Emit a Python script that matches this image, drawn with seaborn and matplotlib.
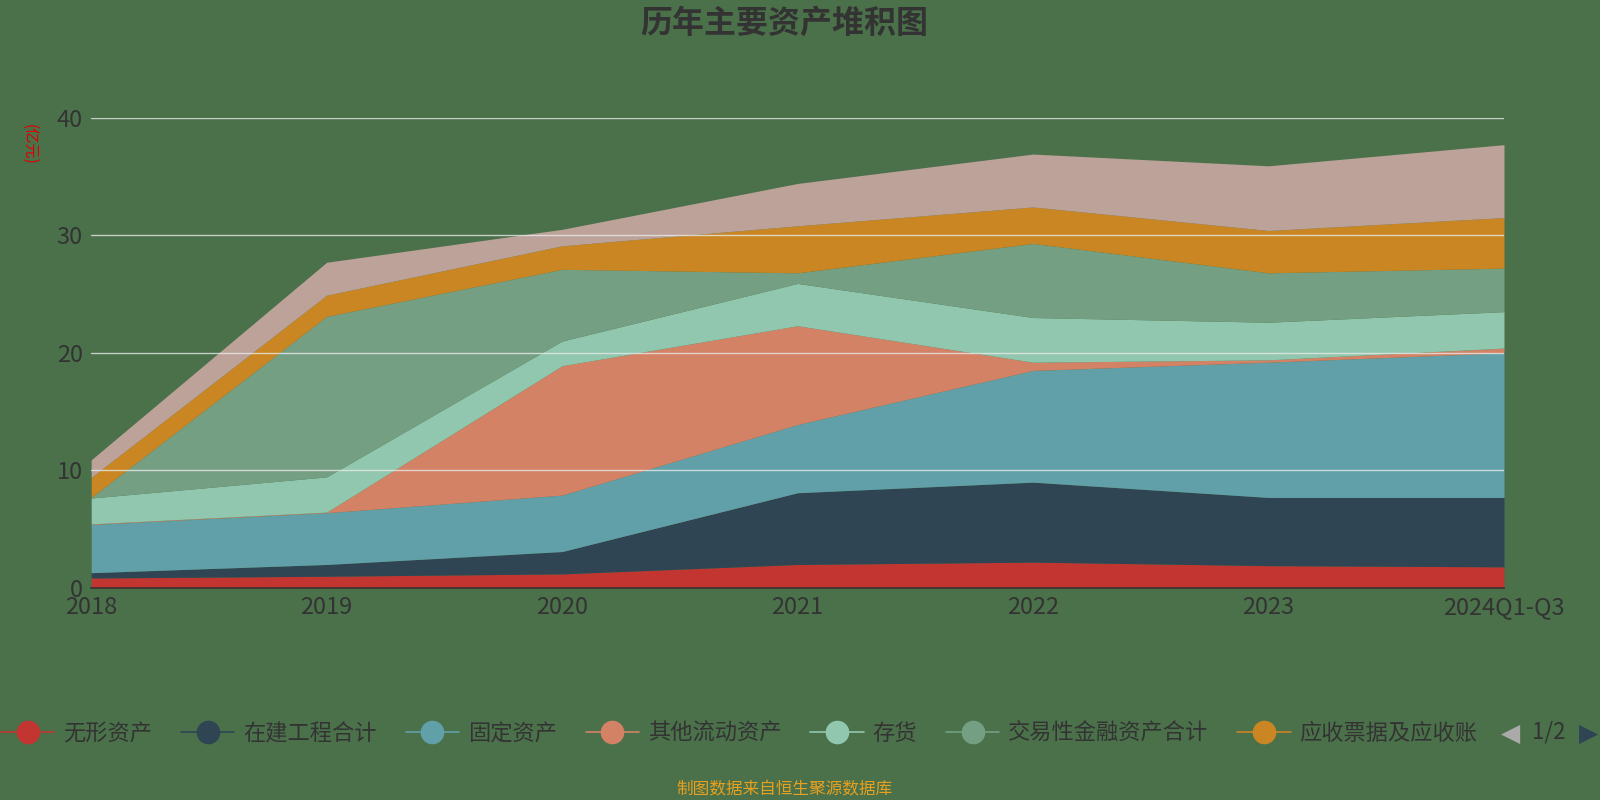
import matplotlib
matplotlib.use("Agg")
import matplotlib.pyplot as plt
import seaborn as sns
from matplotlib.lines import Line2D

sns.set_theme(style="white")
plt.rcParams['font.family'] = ['Noto Sans CJK SC', 'DejaVu Sans']

years = ["2018", "2019", "2020", "2021", "2022", "2023", "2024Q1-Q3"]
names = ["无形资产", "在建工程合计", "固定资产", "其他流动资产", "存货", "交易性金融资产合计", "应收票据及应收账", "货币资金"]
wuxing = [0.85, 1.0, 1.2, 2.0, 2.2, 1.9, 1.8]
zaijian = [0.45, 1.0, 1.9, 6.1, 6.8, 5.8, 5.9]
guding = [4.1, 4.4, 4.8, 5.8, 9.5, 11.5, 12.3]
qita = [0.05, 0.05, 11.0, 8.4, 0.7, 0.2, 0.4]
cunhuo = [2.2, 3.0, 2.1, 3.6, 3.8, 3.2, 3.1]
jiaoyi = [0.05, 13.65, 6.1, 0.9, 6.3, 4.2, 3.7]
yingshou = [1.7, 1.8, 2.0, 4.0, 3.1, 3.6, 4.3]
huobi = [1.5, 2.8, 1.4, 3.6, 4.5, 5.5, 6.2]
series = [wuxing, zaijian, guding, qita, cunhuo, jiaoyi, yingshou, huobi]
colors = ["#c23531", "#2f4554", "#61a0a8", "#d48265", "#91c7ae", "#749f83", "#ca8622", "#bda29a"]

bg = "#4a7149"
fig = plt.figure(figsize=(16, 8), dpi=100, facecolor=bg)
ax = fig.add_axes([0.057, 0.265, 0.883, 0.588])
ax.set_facecolor(bg)
x = list(range(len(years)))
ax.stackplot(x, *series, colors=colors, labels=names, linewidth=0)
ax.set_xlim(0, len(years) - 1)
ax.set_ylim(0, 40)
ax.set_yticks([0, 10, 20, 30, 40])
for v in [10, 20, 30, 40]:
    ax.axhline(v, color="#e8e8e8", lw=1, alpha=0.8, zorder=3)
ax.set_xticks(x)
ax.set_xticklabels(years)
ax.tick_params(axis='both', labelsize=17, colors="#333333", length=0, pad=6)
for t in ax.get_xticklabels() + ax.get_yticklabels():
    t.set_color("#333333")
    t.set_fontweight("medium")
for s in ["top", "right", "left"]:
    ax.spines[s].set_visible(False)
ax.spines["bottom"].set_color("#333333")
ax.spines["bottom"].set_linewidth(1.2)

fig.text(0.49, 0.97, "历年主要资产堆积图", ha="center", va="center", fontsize=23, fontweight="bold", color="#333333")
fig.text(0.018, 0.82, "(亿元)", rotation=-90, ha="center", va="center", fontsize=11, color="#dd0000")

handles = [Line2D([0], [0], color=c, marker='o', markersize=16, lw=1.2) for c in colors[:7]]
leg = fig.legend(handles, names[:7], loc="center", bbox_to_anchor=(0.462, 0.083), ncol=7, frameon=False,
                 fontsize=16, handlelength=2.4, columnspacing=1.3, handletextpad=0.4)
for t in leg.get_texts():
    t.set_color("#333333")
fig.text(0.944, 0.083, "◀", ha="center", va="center", fontsize=18, color="#aaaaaa", family=['DejaVu Sans'])
fig.text(0.968, 0.085, "1/2", ha="center", va="center", fontsize=16, color="#333333")
fig.text(0.993, 0.083, "▶", ha="center", va="center", fontsize=18, color="#2f4554", family=['DejaVu Sans'])
fig.text(0.49, 0.013, "制图数据来自恒生聚源数据库", ha="center", va="center", fontsize=12, color="#e8a020")

fig.savefig("out.png", dpi=100, facecolor=bg)
